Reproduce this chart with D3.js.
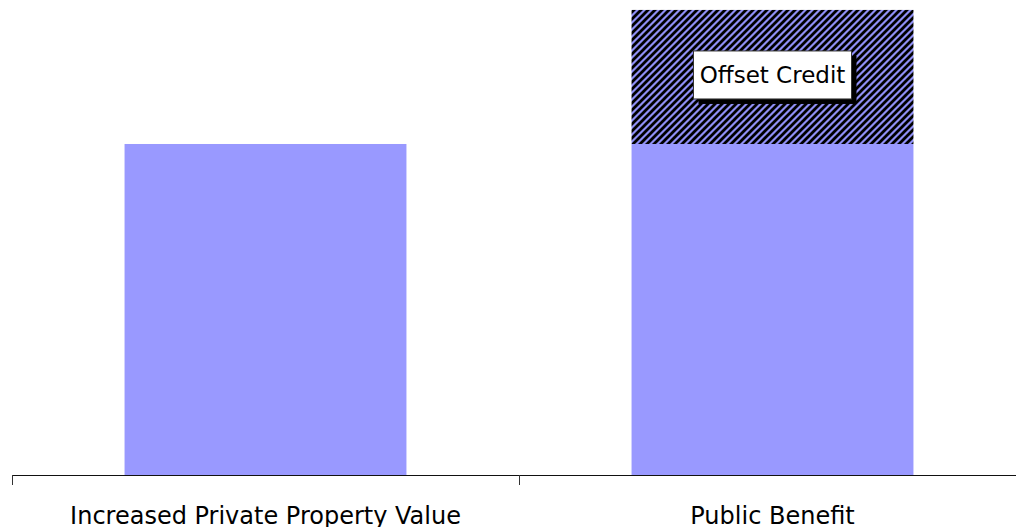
<!DOCTYPE html>
<html>
<head>
<meta charset="utf-8">
<script src="https://cdn.jsdelivr.net/npm/d3@7"></script>
<style>
  body { margin: 0; background: #fff; }
  svg { display: block; font-family: "DejaVu Sans", Verdana, sans-serif; }
</style>
</head>
<body>
<div id="chart-area"></div>
<script>
// categories and values
var categories = ["Increased Private Property Value", "Public Benefit"];
var baseValues = [100, 100];
var offsetValues = [0, 40.5];
var offsetLabel = "Offset Credit";

var width = 1016,
	height = 527;
var margin = {top: 0, bottom: 52, left: 12, right: -10};

var svg = d3.select("#chart-area").append("svg")
	.attr("width", width)
	.attr("height", height);

// hatch pattern for the offset segment
var defs = svg.append("defs");
var t = 7;
var pat = defs.append("pattern")
	.attr("id", "hatch")
	.attr("patternUnits", "userSpaceOnUse")
	.attr("width", t)
	.attr("height", t);
pat.append("rect")
	.attr("width", t).attr("height", t)
	.attr("fill", "#8f8ff5");
pat.append("path")
	.attr("d", "M0," + t + " L" + t + ",0 M-2,2 L2,-2 M" + (t - 2) + "," + (t + 2) + " L" + (t + 2) + "," + (t - 2))
	.attr("stroke", "#000")
	.attr("stroke-width", 2.8);

var xScale = d3.scaleBand()
	.domain(categories)
	.range([margin.left, width - margin.right])
	.paddingInner(0)
	.paddingOuter(0);

var yScale = d3.scaleLinear()
	.domain([0, 143.5])
	.range([height - margin.bottom, margin.top]);

var barW = xScale.bandwidth() * 0.556;

// base bars
svg.selectAll("rect.base")
	.data(categories)
	.enter()
	.append("rect")
	.attr("class", "base")
	.attr("x", function(d) { return xScale(d) + (xScale.bandwidth() - barW) / 2; })
	.attr("y", function(d, i) { return yScale(baseValues[i]); })
	.attr("width", barW)
	.attr("height", function(d, i) { return yScale(0) - yScale(baseValues[i]); })
	.attr("fill", "#9999ff");

// offset (hatched) segments
svg.selectAll("rect.offset")
	.data(categories)
	.enter()
	.append("rect")
	.attr("class", "offset")
	.attr("x", function(d) { return xScale(d) + (xScale.bandwidth() - barW) / 2; })
	.attr("y", function(d, i) { return yScale(baseValues[i] + offsetValues[i]); })
	.attr("width", barW)
	.attr("height", function(d, i) { return yScale(baseValues[i]) - yScale(baseValues[i] + offsetValues[i]); })
	.attr("fill", "url(#hatch)");

// x axis
var xAxis = d3.axisBottom(xScale).tickSize(0).tickPadding(32);
var gx = svg.append("g")
	.attr("class", "axis xAxis")
	.attr("transform", "translate(0," + yScale(0) + ")")
	.call(xAxis);
gx.select(".domain").remove();
gx.append("line")
	.attr("x1", margin.left).attr("x2", width)
	.attr("y1", 0.5).attr("y2", 0.5)
	.attr("stroke", "#111").attr("stroke-width", 1);
gx.selectAll("line.tk")
	.data(categories)
	.enter()
	.append("line")
	.attr("class", "tk")
	.attr("x1", function(d) { return xScale(d) + 0.5; })
	.attr("x2", function(d) { return xScale(d) + 0.5; })
	.attr("y1", 0).attr("y2", 10)
	.attr("stroke", "#333").attr("stroke-width", 1);
gx.selectAll(".tick text")
	.attr("font-family", "DejaVu Sans, Verdana, sans-serif")
	.attr("font-size", 24)
	.attr("fill", "#000");

// label box for offset credit
var lblCat = categories[1];
var cx = xScale(lblCat) + xScale.bandwidth() / 2;
var cy = yScale(baseValues[1] + offsetValues[1] / 2) - 2;
var lbl = svg.append("g").attr("transform", "translate(" + cx + "," + cy + ")");
var boxW = 158, boxH = 48;
lbl.append("rect")
	.attr("x", -boxW / 2 + 5).attr("y", -boxH / 2 + 5)
	.attr("width", boxW).attr("height", boxH)
	.attr("fill", "#000");
lbl.append("rect")
	.attr("x", -boxW / 2).attr("y", -boxH / 2)
	.attr("width", boxW).attr("height", boxH)
	.attr("fill", "#fff")
	.attr("stroke", "#333").attr("stroke-width", 1);
lbl.append("text")
	.attr("text-anchor", "middle")
	.attr("dy", "0.36em")
	.attr("font-size", 23)
	.text(offsetLabel);
</script>
</body>
</html>
